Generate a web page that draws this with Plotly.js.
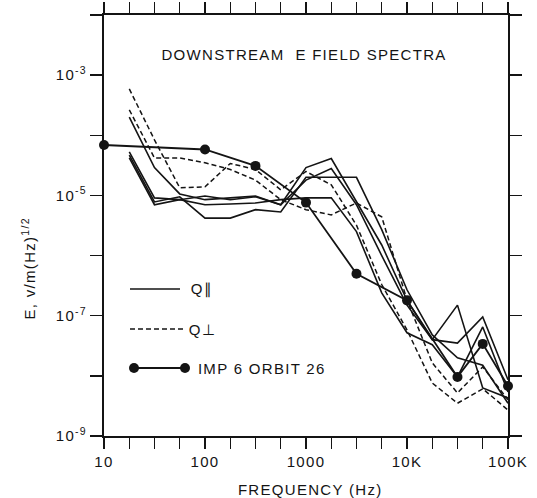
<!DOCTYPE html>
<html>
<head>
<meta charset="utf-8">
<script src="https://cdn.plot.ly/plotly-3.0.1.min.js"></script>
<style>
  html, body { margin: 0; padding: 0; background: #fff; }
  #chart { width: 537px; height: 498px; }
  #chart svg text { letter-spacing: 1.3px; }
</style>
</head>
<body>
<div id="chart"></div>
<script>
// ---- Data ----
const freqGrid = [17.8, 31.6, 56.2, 100, 178, 316, 562, 1000, 1780, 3160, 5620, 10000, 17800, 31600, 56200, 100000];

// Q parallel spectra (solid)
const qPar1 = [2.0e-4, 2.9e-5, 1.06e-5, 8.5e-6, 9.1e-6, 9.8e-6, 7.0e-6, 2.9e-5, 4.1e-5, 7.8e-6, 1.5e-6, 1.8e-7, 4.0e-8, 1.5e-7, 6.3e-9, 4.3e-9];
const qPar2 = [5.3e-5, 9.1e-6, 8.5e-6, 9.8e-6, 8.5e-6, 9.5e-6, 7.0e-6, 1.8e-5, 2.8e-5, 7.0e-6, 1.0e-6, 1.5e-7, 4.0e-8, 3.5e-8, 9.5e-8, 8.6e-9];
const qPar3 = [4.7e-5, 7.8e-6, 9.5e-6, 4.2e-6, 4.2e-6, 5.8e-6, 5.3e-6, 2.0e-5, 2.0e-5, 2.0e-5, 2.7e-6, 2.7e-7, 4.8e-8, 2.0e-8, 1.5e-8, 3.5e-9];
const qPar4 = [4.2e-5, 7.0e-6, 8.5e-6, 7.0e-6, 7.2e-6, 7.5e-6, 8.5e-6, 9.1e-6, 9.1e-6, 2.5e-6, 2.4e-7, 5.2e-8, 3.3e-8, 9.6e-9, 6.5e-8, 5.4e-9];

// Q perpendicular spectra (dashed)
const qPerp1 = [5.9e-4, 8.4e-5, 1.34e-5, 1.39e-5, 3.4e-5, 2.7e-5, 1.24e-5, 2.5e-5, 1.5e-5, 3.2e-6, 3.3e-7, 5.8e-8, 7.6e-9, 3.5e-9, 6.1e-9, 2.7e-9];
const qPerp2 = [2.65e-4, 4.2e-5, 4.2e-5, 3.5e-5, 2.7e-5, 1.8e-5, 8.5e-6, 5.8e-6, 4.75e-6, 7.5e-6, 4.4e-6, 1.83e-7, 1.64e-8, 5.2e-9, 1.41e-8, 4.0e-9];

// IMP 6 orbit 26
const impFreq = [10, 100, 316, 1000, 3160, 10000, 31600, 56200, 100000];
const impE    = [6.9e-5, 5.8e-5, 3.1e-5, 7.6e-6, 5.0e-7, 1.8e-7, 9.6e-9, 3.4e-8, 6.8e-9];

// Axis ticks (unlabelled ticks carry a transparent label)
const Q = '<span style="color:rgba(0,0,0,0)">.</span>';
const xTickVals = [10, 17.8, 31.6, 56.2, 100, 178, 316, 562, 1000, 1780, 3160, 5620, 10000, 17800, 31600, 56200, 100000];
const xTickText = ['10', Q, Q, Q, '100', Q, Q, Q, '1000', Q, Q, Q, '10K', Q, Q, Q, '100K'];
const yTickVals = [1e-9, 1e-8, 1e-7, 1e-6, 1e-5, 1e-4, 1e-3, 1e-2];
const yTickText = ['10<sup>-9</sup>', Q, '10<sup>-7</sup>', Q, '10<sup>-5</sup>', Q, '10<sup>-3</sup>', Q];

// Text
const titleText = 'DOWNSTREAM&nbsp; E FIELD SPECTRA';
const xTitle = 'FREQUENCY (Hz)';
const yTitle = 'E, v/m(Hz)<sup>1/2</sup>';
const legendNames = ['Q\u2225', 'Q\u22A5', 'IMP 6 ORBIT 26'];

// ---- Plot ----
const INK = '#141414';
const FONT = 'Liberation Sans, Arial, Helvetica, sans-serif';
const LS = 1.3; // letter spacing used in CSS

const solidLine = {color: INK, width: 1.6};
const dashLine = {color: INK, width: 1.5, dash: '5px,3px'};

const traces = [];
[qPar1, qPar2, qPar3, qPar4].forEach(v => traces.push({
  x: freqGrid, y: v, type: 'scatter', mode: 'lines', line: solidLine,
  showlegend: false, hoverinfo: 'skip'
}));
[qPerp1, qPerp2].forEach(v => traces.push({
  x: freqGrid, y: v, type: 'scatter', mode: 'lines', line: dashLine,
  showlegend: false, hoverinfo: 'skip'
}));
traces.push({
  x: impFreq, y: impE, type: 'scatter', mode: 'lines+markers',
  line: {color: INK, width: 1.8}, marker: {color: INK, size: 10},
  cliponaxis: false, showlegend: false, hoverinfo: 'skip'
});

const L = 104, R = 508, T = 15, B = 436;
const W = R - L, H = B - T;
const px = p => (p - L) / W;
const py = p => (B - p) / H;

const shapes = [
  {type: 'line', xref: 'paper', yref: 'paper', x0: px(130), x1: px(180), y0: py(289), y1: py(289), line: {color: INK, width: 1.6}},
  {type: 'line', xref: 'paper', yref: 'paper', x0: px(130), x1: px(183), y0: py(329), y1: py(329), line: {color: INK, width: 1.5, dash: '5px,3px'}},
  {type: 'line', xref: 'paper', yref: 'paper', x0: px(134), x1: px(185), y0: py(368), y1: py(368), line: {color: INK, width: 1.8}},
  {type: 'circle', xref: 'paper', yref: 'paper', xsizemode: 'pixel', ysizemode: 'pixel', xanchor: px(134), yanchor: py(368), x0: -5, x1: 5, y0: -5, y1: 5, fillcolor: INK, line: {width: 0}},
  {type: 'circle', xref: 'paper', yref: 'paper', xsizemode: 'pixel', ysizemode: 'pixel', xanchor: px(185), yanchor: py(368), x0: -5, x1: 5, y0: -5, y1: 5, fillcolor: INK, line: {width: 0}}
];

const annFont = {family: FONT, size: 15, color: INK};
const leftX = (p, s) => px(p + LS * s.length / 2);
const annotations = [
  {text: titleText, xref: 'paper', yref: 'paper', x: px(304), y: py(55), xanchor: 'center', yanchor: 'middle', showarrow: false, font: annFont},
  {text: xTitle, xref: 'paper', yref: 'paper', x: px(310), y: py(489), xanchor: 'center', yanchor: 'middle', showarrow: false, font: annFont},
  {text: yTitle, xref: 'paper', yref: 'paper', x: px(28), y: py(268), xanchor: 'center', yanchor: 'middle', textangle: -90, showarrow: false, font: annFont},
  {text: legendNames[0], xref: 'paper', yref: 'paper', x: leftX(189, legendNames[0]), y: py(289), xanchor: 'left', yanchor: 'middle', showarrow: false, font: annFont},
  {text: legendNames[1], xref: 'paper', yref: 'paper', x: leftX(187, legendNames[1]), y: py(329), xanchor: 'left', yanchor: 'middle', showarrow: false, font: annFont},
  {text: legendNames[2], xref: 'paper', yref: 'paper', x: leftX(196, legendNames[2]), y: py(368), xanchor: 'left', yanchor: 'middle', showarrow: false, font: annFont}
];

const layout = {
  width: 537, height: 498,
  margin: {l: L, r: 537 - R, t: T, b: 498 - B, pad: 0},
  paper_bgcolor: '#fff', plot_bgcolor: '#fff',
  font: {family: FONT, size: 15, color: INK},
  showlegend: false,
  xaxis: {
    type: 'log', range: [1, 5], autorange: false, fixedrange: true,
    showline: true, linewidth: 2, linecolor: INK, mirror: 'ticks',
    showgrid: false, zeroline: false,
    ticks: 'outside', ticklen: 11, tickwidth: 1.5, tickcolor: INK,
    tickmode: 'array', tickvals: xTickVals, ticktext: xTickText,
    tickfont: {family: FONT, size: 15, color: INK}
  },
  yaxis: {
    type: 'log', range: [-9, -2], autorange: false, fixedrange: true,
    showline: true, linewidth: 2, linecolor: INK, mirror: 'ticks',
    showgrid: false, zeroline: false,
    ticks: 'outside', ticklen: 12, tickwidth: 1.5, tickcolor: INK,
    tickmode: 'array', tickvals: yTickVals, ticktext: yTickText,
    tickfont: {family: FONT, size: 15, color: INK}
  },
  shapes: shapes,
  annotations: annotations
};

Plotly.newPlot('chart', traces, layout, {staticPlot: true, displayModeBar: false});
</script>
</body>
</html>
